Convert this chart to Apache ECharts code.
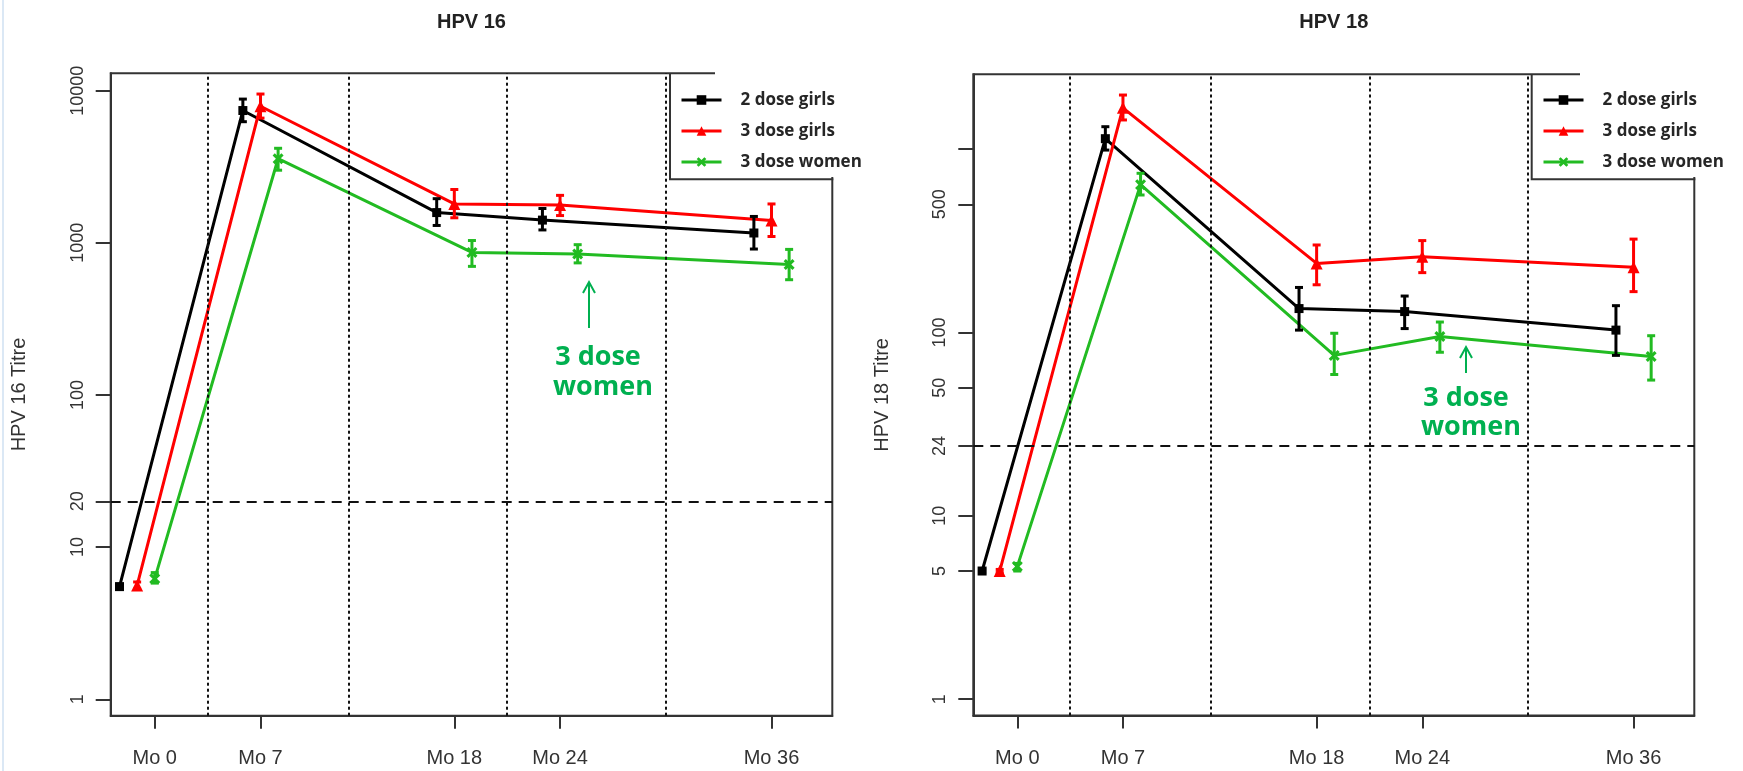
<!DOCTYPE html>
<html>
<head>
<meta charset="utf-8">
<script src="https://cdn.jsdelivr.net/npm/echarts@6/dist/echarts.min.js"></script>
<style>
html,body{margin:0;padding:0;background:#fff;}
#c{width:1743px;height:771px;}
</style>
</head>
<body>
<div id="c"></div>
<script>
// ---------- data ----------
const visitMonths = [0, 7, 18, 24, 36];
const xTickPositions = [1, 7, 18, 24, 36];
const xTickLabels = ['Mo 0', 'Mo 7', 'Mo 18', 'Mo 24', 'Mo 36'];
const visitDividers = [4, 12, 21, 30];
const groupNames = ['2 dose girls', '3 dose girls', '3 dose women'];

// HPV 16 titres (GMT and 95% CI)
const hpv16TwoDoseGirls      = [5.5, 7400, 1580, 1410, 1160];
const hpv16TwoDoseGirlsLow   = [5.3, 6250, 1300, 1215, 910];
const hpv16TwoDoseGirlsHigh  = [5.7, 8800, 1950, 1680, 1490];
const hpv16ThreeDoseGirls     = [5.6, 7900, 1800, 1770, 1400];
const hpv16ThreeDoseGirlsLow  = [5.3, 6600, 1460, 1510, 1100];
const hpv16ThreeDoseGirlsHigh = [5.9, 9500, 2240, 2050, 1800];
const hpv16ThreeDoseWomen     = [6.2, 3570, 865, 845, 720];
const hpv16ThreeDoseWomenLow  = [5.8, 3000, 700, 738, 572];
const hpv16ThreeDoseWomenHigh = [6.8, 4180, 1035, 972, 905];
const hpv16YTicks = [1, 10, 20, 100, 1000, 10000];
const hpv16Cutoff = 20;

// HPV 18 titres (GMT and 95% CI)
const hpv18TwoDoseGirls      = [5.0, 1140, 135, 130, 103];
const hpv18TwoDoseGirlsLow   = [4.9, 988, 103, 105, 75];
const hpv18TwoDoseGirlsHigh  = [5.1, 1325, 176, 158, 140];
const hpv18ThreeDoseGirls     = [5.0, 1680, 238, 259, 227];
const hpv18ThreeDoseGirlsLow  = [4.9, 1442, 182, 212, 167];
const hpv18ThreeDoseGirlsHigh = [5.1, 1972, 300, 317, 323];
const hpv18ThreeDoseWomen     = [5.3, 640, 75, 95, 74];
const hpv18ThreeDoseWomenLow  = [5.0, 562, 59, 78, 55];
const hpv18ThreeDoseWomenHigh = [5.5, 738, 99, 114, 96];
const hpv18YTicks = [1, 5, 10, 24, 50, 100, 500];
const hpv18YUnlabelledTicks = [1000];
const hpv18Cutoff = 24;

// ---------- styles ----------
const colors = ['#000000', '#ff0000', '#22bb22'];
const symbols = ['rect', 'triangle',
  'path://M0,2L2,0L5,3L8,0L10,2L7,5L10,8L8,10L5,7L2,10L0,8L3,5Z'];
const symbolSizes = [9, 12, 11];
const dodge = [-1, 0, 1];
const axisFont = 'Liberation Sans, Arial, sans-serif';
const lg = Math.log10;

const panels = [
  {
    title: 'HPV 16', yName: 'HPV 16 Titre',
    grid: {left: 110.7, top: 73.3, width: 721.6, height: 642.4},
    yMin: -0.108, yMax: 4.114,
    labelTicks: hpv16YTicks, extraTicks: [], cutoff: hpv16Cutoff,
    groups: [
      [hpv16TwoDoseGirls, hpv16TwoDoseGirlsLow, hpv16TwoDoseGirlsHigh],
      [hpv16ThreeDoseGirls, hpv16ThreeDoseGirlsLow, hpv16ThreeDoseGirlsHigh],
      [hpv16ThreeDoseWomen, hpv16ThreeDoseWomenLow, hpv16ThreeDoseWomenHigh]
    ]
  },
  {
    title: 'HPV 18', yName: 'HPV 18 Titre',
    grid: {left: 973.3, top: 74.3, width: 721, height: 641.2},
    yMin: -0.089, yMax: 3.408,
    labelTicks: hpv18YTicks, extraTicks: hpv18YUnlabelledTicks, cutoff: hpv18Cutoff,
    groups: [
      [hpv18TwoDoseGirls, hpv18TwoDoseGirlsLow, hpv18TwoDoseGirlsHigh],
      [hpv18ThreeDoseGirls, hpv18ThreeDoseGirlsLow, hpv18ThreeDoseGirlsHigh],
      [hpv18ThreeDoseWomen, hpv18ThreeDoseWomenLow, hpv18ThreeDoseWomenHigh]
    ]
  }
];

function errorBarRender(params, api) {
  const x = api.value(0);
  const pLo = api.coord([x, api.value(1)]);
  const pHi = api.coord([x, api.value(2)]);
  const cap = 4;
  const style = {stroke: api.visual('color'), lineWidth: 3};
  return {
    type: 'group',
    children: [
      {type: 'line', shape: {x1: pLo[0], y1: pLo[1], x2: pHi[0], y2: pHi[1]}, style: style},
      {type: 'line', shape: {x1: pLo[0] - cap, y1: pLo[1], x2: pLo[0] + cap, y2: pLo[1]}, style: style},
      {type: 'line', shape: {x1: pHi[0] - cap, y1: pHi[1], x2: pHi[0] + cap, y2: pHi[1]}, style: style}
    ]
  };
}

const grids = [], xAxes = [], yAxes = [], series = [], legends = [], graphics = [];

panels.forEach(function (p, pi) {
  grids.push(Object.assign({
    show: true, borderColor: '#333', borderWidth: 2, backgroundColor: '#fff', containLabel: false
  }, p.grid));

  xAxes.push({
    type: 'value', gridIndex: pi, min: -1.5, max: 39.45,
    axisLine: {show: true, onZero: false, lineStyle: {color: '#333', width: 2}},
    axisTick: {show: true, length: 13, customValues: xTickPositions, lineStyle: {color: '#333', width: 2}},
    axisLabel: {
      customValues: xTickPositions, margin: 33,
      fontFamily: axisFont, fontSize: 20, color: '#333',
      formatter: function (v) {
        const i = xTickPositions.indexOf(Math.round(v));
        return i >= 0 ? xTickLabels[i] : '';
      }
    },
    splitLine: {show: false}
  });

  const labelVals = p.labelTicks.map(lg);
  const tickVals = p.labelTicks.concat(p.extraTicks).map(lg);
  yAxes.push({
    type: 'value', gridIndex: pi, min: p.yMin, max: p.yMax,
    name: p.yName, nameLocation: 'middle', nameGap: 81,
    nameTextStyle: {fontFamily: axisFont, fontSize: 20, color: '#333'},
    axisLine: {show: true, onZero: false, lineStyle: {color: '#333', width: 2}},
    axisTick: {show: true, length: 15, customValues: tickVals, lineStyle: {color: '#333', width: 2}},
    axisLabel: {
      customValues: labelVals, rotate: 90, margin: 24, hideOverlap: false,
      fontFamily: axisFont, fontSize: 18, color: '#333',
      formatter: function (v) { return String(Math.round(Math.pow(10, v))); }
    },
    splitLine: {show: false}
  });

  p.groups.forEach(function (g, gi) {
    const vals = g[0], lo = g[1], hi = g[2];
    const lineData = visitMonths.map(function (m, k) { return [m + dodge[gi], lg(vals[k])]; });
    const errData = visitMonths.map(function (m, k) { return [m + dodge[gi], lg(lo[k]), lg(hi[k])]; });
    const s = {
      type: 'line', name: groupNames[gi], xAxisIndex: pi, yAxisIndex: pi,
      data: lineData, symbol: symbols[gi], symbolSize: symbolSizes[gi],
      showSymbol: true, z: 3,
      lineStyle: {color: colors[gi], width: 3},
      itemStyle: {color: colors[gi]},
      emphasis: {disabled: true}
    };
    if (gi === 0) {
      const dividerData = visitDividers.map(function (d) {
        return {xAxis: d, lineStyle: {type: [3, 3], width: 2, color: '#111'}};
      });
      dividerData.push({yAxis: lg(p.cutoff), lineStyle: {type: [10, 7], width: 2, color: '#111'}});
      s.markLine = {silent: true, symbol: 'none', label: {show: false}, animation: false, data: dividerData};
    }
    series.push(s);
    series.push({
      type: 'custom', name: groupNames[gi] + ' CI', xAxisIndex: pi, yAxisIndex: pi,
      renderItem: errorBarRender, data: errData, z: 4,
      itemStyle: {color: colors[gi]},
      encode: {x: 0, y: [1, 2]}
    });
  });
});

// legends (R-style boxes, text area pasted on white)
const legendCfg = [
  {boxLeft: 670, iconLeft: 675, whiteLeft: 715, plotRight: 832.3, top: 73.3},
  {boxLeft: 1531.7, iconLeft: 1537, whiteLeft: 1580, plotRight: 1694.3, top: 74.3}
];
legendCfg.forEach(function (c) {
  graphics.push({
    type: 'rect', z: 50, silent: true,
    shape: {x: c.whiteLeft, y: 55, width: 160, height: 122},
    style: {fill: '#fff'}
  });
  graphics.push({
    type: 'polyline', z: 51, silent: true,
    shape: {points: [[c.boxLeft, c.top], [c.boxLeft, 179.3], [c.plotRight + 1, 179.3]]},
    style: {stroke: '#333', lineWidth: 2, fill: null}
  });
  legends.push({
    data: groupNames, orient: 'vertical', left: c.iconLeft, top: 86.5,
    itemWidth: 40, itemHeight: 12, itemGap: 14, z: 60,
    selectedMode: false,
    lineStyle: {width: 3},
    textStyle: {fontFamily: 'Open Sans', fontWeight: 'bold', fontSize: 17, color: '#262626', padding: [0, 0, 0, 14]}
  });
});

// titles
graphics.push({type: 'text', z: 60, x: 471.5, y: 22,
  style: {text: 'HPV 16', font: 'bold 20px Liberation Sans, Arial, sans-serif', fill: '#222', align: 'center', verticalAlign: 'middle'}});
graphics.push({type: 'text', z: 60, x: 1333.8, y: 22,
  style: {text: 'HPV 18', font: 'bold 20px Liberation Sans, Arial, sans-serif', fill: '#222', align: 'center', verticalAlign: 'middle'}});

// "3 dose women" callouts
const callGreen = '#00b050';
function callout(ax, yTail, yTip, tx, ty1, ty2) {
  graphics.push({type: 'polyline', z: 60, silent: true,
    shape: {points: [[ax, yTail], [ax, yTip]]}, style: {stroke: callGreen, lineWidth: 2, fill: null}});
  graphics.push({type: 'polyline', z: 60, silent: true,
    shape: {points: [[ax - 6, yTip + 11], [ax, yTip], [ax + 6, yTip + 11]]}, style: {stroke: callGreen, lineWidth: 2, fill: null}});
  graphics.push({type: 'text', z: 60, x: tx, y: ty1,
    style: {text: '3 dose', font: 'bold 27px Open Sans, sans-serif', fill: callGreen, align: 'center', verticalAlign: 'middle'}});
  graphics.push({type: 'text', z: 60, x: tx + 5, y: ty2,
    style: {text: 'women', font: 'bold 27px Open Sans, sans-serif', fill: callGreen, align: 'center', verticalAlign: 'middle'}});
}
callout(589, 328, 282, 598, 357, 387);
callout(1466, 373, 347, 1466, 398, 427);

// faint left border artefact
graphics.push({type: 'line', z: 1, silent: true, shape: {x1: 3, y1: 0, x2: 3, y2: 771}, style: {stroke: '#dbe8f5', lineWidth: 2}});

const chart = echarts.init(document.getElementById('c'), null, {renderer: 'canvas'});
chart.setOption({
  animation: false,
  backgroundColor: '#fff',
  grid: grids,
  xAxis: xAxes,
  yAxis: yAxes,
  legend: legends,
  series: series,
  graphic: {elements: graphics}
});
</script>
</body>
</html>
